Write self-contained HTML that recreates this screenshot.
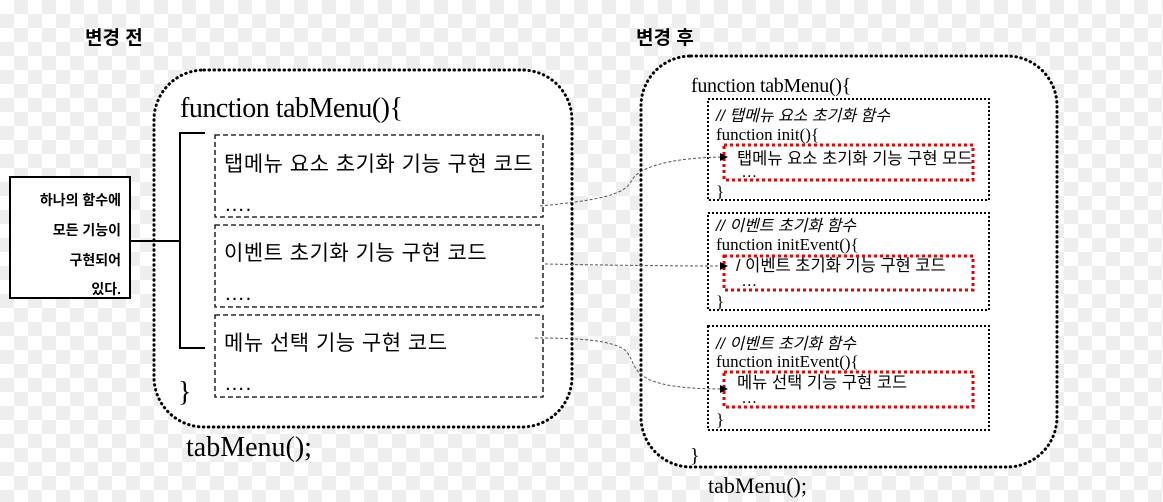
<!DOCTYPE html>
<html><head><meta charset="utf-8"><style>
html,body{margin:0;padding:0;}
body{width:1163px;height:502px;overflow:hidden;background-color:#fff;
background-image:linear-gradient(45deg,#eee 25%,transparent 25%,transparent 75%,#eee 75%),linear-gradient(45deg,#eee 25%,transparent 25%,transparent 75%,#eee 75%);
background-size:28px 28px;background-position:0 0,14px 14px;}
svg{position:absolute;left:0;top:0;}
.k{font-family:"Liberation Sans","Noto Sans CJK KR",sans-serif;}
.s{font-family:"Liberation Serif","Noto Sans CJK KR",serif;}
</style></head><body>
<svg width="1163" height="502" viewBox="0 0 1163 502">
<defs><marker id="a" markerWidth="8" markerHeight="8" refX="7" refY="4" orient="auto"><path d="M0,0 L8,4 L0,8z" fill="#000"/></marker></defs>
<text x="85" y="44" class="k" font-size="19" font-weight="bold">변경 전</text>
<text x="636" y="44" class="k" font-size="19" font-weight="bold">변경 후</text>
<!-- left -->
<rect x="154" y="70" width="418" height="357" rx="50" fill="#fff" stroke="#000" stroke-width="3" stroke-dasharray="0.5 4.5" stroke-linecap="round"/>
<text x="180" y="117" class="s" font-size="28" letter-spacing="-0.5">function tabMenu(){</text>
<path d="M205 133 H180 V348 H205 M130 241 H180" fill="none" stroke="#000" stroke-width="2"/>
<rect x="10" y="177" width="120" height="121" fill="#fff" stroke="#000" stroke-width="2"/>
<g class="k" font-size="14" font-weight="bold" text-anchor="end">
<text x="121" y="205">하나의 함수에</text><text x="121" y="235">모든 기능이</text><text x="121" y="265">구현되어</text><text x="121" y="294">있다.</text></g>
<g fill="#fff" stroke="#000" stroke-width="1.3" stroke-dasharray="5 3">
<rect x="215" y="135" width="328" height="82"/><rect x="215" y="225" width="328" height="82"/><rect x="215" y="315" width="328" height="82"/></g>
<g class="k" font-size="21" letter-spacing="0.5">
<text x="224" y="171">탭메뉴 요소 초기화 기능 구현 코드</text><text x="224" y="211">….</text>
<text x="224" y="260">이벤트 초기화 기능 구현 코드</text><text x="224" y="300">….</text>
<text x="224" y="350">메뉴 선택 기능 구현 코드</text><text x="224" y="390">….</text></g>
<text x="178" y="401" class="s" font-size="28">}</text>
<text x="186" y="456" class="s" font-size="28">tabMenu();</text>
<!-- right -->
<rect x="641" y="56" width="416" height="411" rx="50" fill="#fff" stroke="#000" stroke-width="3" stroke-dasharray="0.5 4.5" stroke-linecap="round"/>
<text x="691" y="92" class="s" font-size="20" letter-spacing="-0.3">function tabMenu(){</text>
<g fill="#fff" stroke="#000" stroke-width="2" stroke-dasharray="2 2">
<rect x="708" y="99" width="281" height="101"/><rect x="708" y="213" width="281" height="97"/><rect x="708" y="326" width="281" height="104"/></g>
<g fill="none" stroke="#e00" stroke-width="3" stroke-dasharray="3 3">
<rect x="724" y="145" width="249" height="35"/><rect x="724" y="256" width="249" height="34"/><rect x="724" y="372" width="249" height="35"/></g>
<g class="k" font-size="16" font-style="italic">
<text x="716" y="121">// 탭메뉴 요소 초기화 함수</text><text x="716" y="231">// 이벤트 초기화 함수</text><text x="716" y="349">// 이벤트 초기화 함수</text></g>
<g class="s" font-size="17">
<text x="716" y="140">function init(){</text><text x="716" y="250">function initEvent(){</text><text x="716" y="367">function initEvent(){</text>
<text x="716" y="197">}</text><text x="716" y="307">}</text><text x="716" y="425">}</text></g>
<g class="k" font-size="16.5">
<text x="737" y="164">탭메뉴 요소 초기화 기능 구현 모드</text><text x="741" y="177">…</text>
<text x="736" y="271">/ 이벤트 초기화 기능 구현 코드</text><text x="741" y="286">…</text>
<text x="737" y="388">메뉴 선택 기능 구현 코드</text><text x="741" y="403">…</text></g>
<text x="690" y="462" class="s" font-size="20">}</text>
<text x="708" y="493" class="s" font-size="22">tabMenu();</text>
<g fill="none" stroke="#555" stroke-width="1" stroke-dasharray="3 2" marker-end="url(#a)">
<path d="M540 206 C600 200,625 195,632 180 C640 165,680 157,727 157"/>
<path d="M545 264 C600 265,660 266,727 266"/>
<path d="M535 338 C580 338,610 340,625 350 C635 360,630 370,650 380 C670 388,700 389,727 389"/>
</g>
</svg>
</body></html>
